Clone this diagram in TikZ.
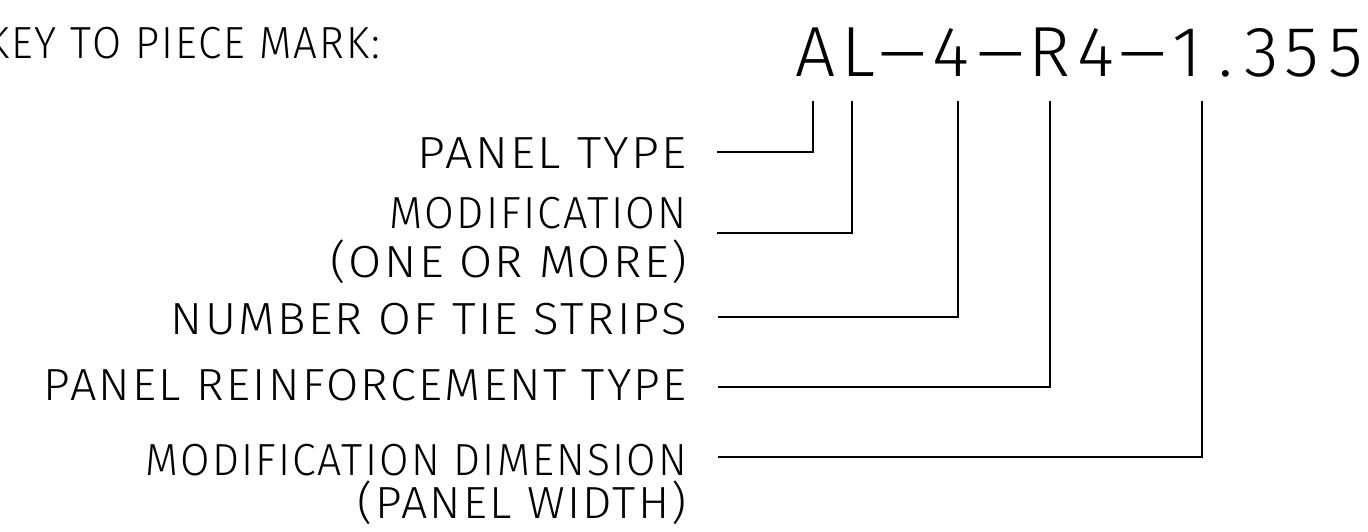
\documentclass[tikz,border=0pt]{standalone}
\usepackage{fontspec}
\setmainfont{Fira Sans Light}
\usepackage{graphicx}
\newcommand{\fw}[2]{\resizebox{#1}{\height}{#2}}
\newcommand{\cb}[2]{\makebox[#1pt]{#2}}
\newcommand{\wh}{\scalebox{2.2}[1]{-}}
\begin{document}
\begin{tikzpicture}[x=1pt,y=-1pt,
  lbl/.style={font=\fontsize{45}{48}\selectfont\addfontfeatures{LetterSpace=5}, inner sep=0pt, anchor=base east},
  code/.style={font=\fontsize{71}{74}\selectfont, inner sep=0pt, anchor=base west},
  lead/.style={line width=2.8pt, line join=miter, line cap=butt}]
\useasboundingbox (0,0) rectangle (1368,531);
\fill[white] (0,0) rectangle (1368,531);

% title and piece mark
\node[lbl, anchor=base west] (key) at (-14,58) {\fw{394pt}{KEY TO PIECE MARK:}};
\node[code] (mark) at (793,76) {\cb{44.5}{A}\cb{42.5}{L}\cb{46}{\wh}\cb{50}{4}\cb{49}{\wh}\cb{47.5}{R}\cb{46.5}{4}\cb{47}{\wh}\cb{42}{1}\cb{34.5}{.}\cb{37.5}{3}\cb{44}{5}\cb{44}{5}};

% labels
\node[lbl] (l1)  at (687,168) {\fw{269pt}{PANEL TYPE}};
\node[lbl] (l2a) at (687,228) {\fw{297pt}{MODIFICATION}};
\node[lbl] (l2b) at (687,277) {\fw{356pt}{(ONE OR MORE)}};
\node[lbl] (l3)  at (687,334) {\fw{516pt}{NUMBER OF TIE STRIPS}};
\node[lbl] (l4)  at (687,400) {\fw{643pt}{PANEL REINFORCEMENT TYPE}};
\node[lbl] (l5a) at (687,475) {\fw{541pt}{MODIFICATION DIMENSION}};
\node[lbl] (l5b) at (687,518) {\fw{329pt}{(PANEL WIDTH)}};

% leader ends
\coordinate (s1) at (717,152);  \coordinate (t1) at (813,101);
\coordinate (s2) at (717,233);  \coordinate (t2) at (852,101);
\coordinate (s3) at (718,317);  \coordinate (t3) at (958,101);
\coordinate (s4) at (718,387);  \coordinate (t4) at (1050,101);
\coordinate (s5) at (718,457);  \coordinate (t5) at (1202,101);

\draw[lead] (s1) -| (t1);
\draw[lead] (s2) -| (t2);
\draw[lead] (s3) -| (t3);
\draw[lead] (s4) -| (t4);
\draw[lead] (s5) -| (t5);
\end{tikzpicture}
\end{document}
